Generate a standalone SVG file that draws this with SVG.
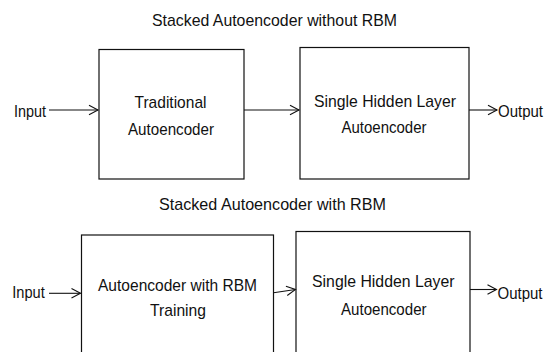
<svg xmlns="http://www.w3.org/2000/svg" width="548" height="352" viewBox="0 0 548 352">
<defs>
<marker id="arr" markerUnits="userSpaceOnUse" markerWidth="12" markerHeight="12" viewBox="0 0 12 12" refX="10.5" refY="6" orient="auto">
<path d="M1.5,1.3 L10.5,6 L1.5,10.7" fill="none" stroke="#111" stroke-width="1.1"/>
</marker>
<style>
.box{fill:#fff;stroke:#111;stroke-width:1.2}
.t{font-family:"Liberation Sans",Arial,sans-serif;font-size:17px;fill:#111}
.c{text-anchor:middle}
.ttl{font-family:"Liberation Sans",Arial,sans-serif;font-size:17px;fill:#111;text-anchor:middle}
.ln{stroke:#111;stroke-width:1.1;fill:none;marker-end:url(#arr)}
</style>
</defs>
<rect width="548" height="352" fill="#fff"/>
<text class="ttl" x="274.5" y="26" textLength="245" lengthAdjust="spacingAndGlyphs">Stacked Autoencoder without RBM</text>
<text class="ttl" x="272.5" y="209.5" textLength="227" lengthAdjust="spacingAndGlyphs">Stacked Autoencoder with RBM</text>
<g id="input1"><text class="t" x="14" y="117" textLength="32" lengthAdjust="spacingAndGlyphs">Input</text></g>
<g id="box1"><rect class="box" x="99" y="49.5" width="145" height="129.5"/>
<text class="t c" x="170.5" y="108.4" textLength="72" lengthAdjust="spacingAndGlyphs">Traditional</text>
<text class="t c" x="171" y="134.6" textLength="86" lengthAdjust="spacingAndGlyphs">Autoencoder</text></g>
<g id="box2"><rect class="box" x="300" y="47.5" width="169" height="131.5"/>
<text class="t c" x="385" y="106.6" textLength="142" lengthAdjust="spacingAndGlyphs">Single Hidden Layer</text>
<text class="t c" x="384" y="133" textLength="85" lengthAdjust="spacingAndGlyphs">Autoencoder</text></g>
<g id="output1"><text class="t" x="498" y="117" textLength="45" lengthAdjust="spacingAndGlyphs">Output</text></g>
<g id="input2"><text class="t" x="12.3" y="297.5" textLength="32.5" lengthAdjust="spacingAndGlyphs">Input</text></g>
<g id="box3"><rect class="box" x="81.5" y="235" width="192" height="130"/>
<text class="t c" x="177.5" y="291.2" textLength="159" lengthAdjust="spacingAndGlyphs">Autoencoder with RBM</text>
<text class="t c" x="178" y="315.5" textLength="56" lengthAdjust="spacingAndGlyphs">Training</text></g>
<g id="box4"><rect class="box" x="296" y="231.5" width="174" height="130"/>
<text class="t c" x="383.3" y="286.6" textLength="142.5" lengthAdjust="spacingAndGlyphs">Single Hidden Layer</text>
<text class="t c" x="383.8" y="314.6" textLength="85.5" lengthAdjust="spacingAndGlyphs">Autoencoder</text></g>
<g id="output2"><text class="t" x="497.5" y="299.3" textLength="45" lengthAdjust="spacingAndGlyphs">Output</text></g>
<g id="connectors">
<line class="ln" x1="49" y1="110" x2="98" y2="110"/>
<line class="ln" x1="244" y1="110" x2="299" y2="110"/>
<line class="ln" x1="469" y1="110" x2="497" y2="110"/>
<line class="ln" x1="49" y1="293.3" x2="80.5" y2="293.3"/>
<line class="ln" x1="273.5" y1="292.7" x2="295.5" y2="289.5"/>
<line class="ln" x1="470" y1="289.5" x2="496.5" y2="289.5"/>
</g>
</svg>
